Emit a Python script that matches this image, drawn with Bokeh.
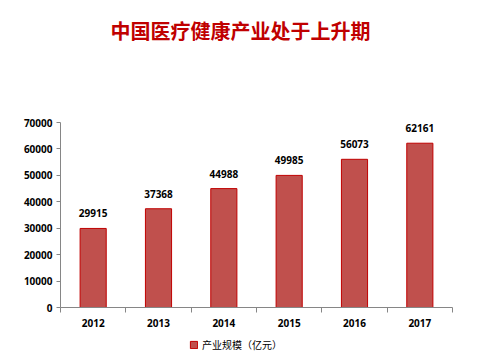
from bokeh.plotting import figure
from bokeh.layouts import column
from bokeh.models import ColumnDataSource, FixedTicker, Legend, LegendItem, Range1d
from bokeh.core.properties import value
from bokeh.embed import file_html
from bokeh.resources import INLINE

years = ["2012", "2013", "2014", "2015", "2016", "2017"]
scale = [29915, 37368, 44988, 49985, 56073, 62161]
y_ticks = [0, 10000, 20000, 30000, 40000, 50000, 60000, 70000]
title_text = "中国医疗健康产业处于上升期"
series_name = "产业规模（亿元）"

BAR_FILL = "#C0504D"
BAR_LINE = "#C00000"


def bare(fig):
    fig.outline_line_color = None
    fig.xaxis.visible = False
    fig.yaxis.visible = False
    fig.xgrid.visible = False
    fig.ygrid.visible = False
    return fig


xs = [i + 0.5 for i in range(len(years))]
src = ColumnDataSource(dict(x=xs, y=scale, lbl=[str(v) for v in scale]))

# ---- title strip (column aligns its frame with the main chart: 60px left, 28px right) ----
t = bare(figure(width=480, height=95, output_backend="svg", toolbar_location=None,
                x_range=Range1d(0, 392), y_range=Range1d(0, 95),
                min_border=0))
t.text(x=[180], y=[65], text=[title_text], text_align="center", text_baseline="middle",
       text_font=value("Noto Sans CJK SC"), text_font_size="20px", text_font_style="bold",
       text_color=BAR_LINE)

# ---- main chart ----
p = figure(width=480, height=240, output_backend="svg", toolbar_location=None,
           x_range=Range1d(0, len(years)), y_range=Range1d(0, 70000),
           min_border_left=60, min_border_right=28, min_border_top=27, min_border_bottom=28)
p.outline_line_color = None
p.xgrid.visible = False
p.ygrid.visible = False

p.vbar(x="x", top="y", width=0.4, source=src, fill_color=BAR_FILL, line_color=BAR_LINE, line_width=1)
p.text(x="x", y="y", text="lbl", source=src, text_align="center", text_baseline="bottom",
       y_offset=-11, text_font=value("Noto Sans"), text_font_size="10px", text_font_style="bold",
       text_color="black")

ax = p.xaxis[0]
ax.ticker = FixedTicker(ticks=xs, minor_ticks=list(range(len(years) + 1)))
ax.major_label_overrides = {x: y for x, y in zip(xs, years)}
ax.major_tick_line_color = None
ax.minor_tick_in = 0
ax.minor_tick_out = 5
ax.minor_tick_line_color = "#868686"
ax.axis_line_color = "#868686"
ax.major_label_text_font = "Noto Sans"
ax.major_label_text_font_size = "10px"
ax.major_label_text_font_style = "bold"
ax.major_label_text_color = "black"
ax.major_label_standoff = 5

ay = p.yaxis[0]
ay.ticker = FixedTicker(ticks=y_ticks, minor_ticks=[])
ay.major_tick_in = 0
ay.major_tick_out = 4
ay.major_tick_line_color = "#868686"
ay.axis_line_color = "#868686"
ay.major_label_text_font = "Noto Sans"
ay.major_label_text_font_size = "10px"
ay.major_label_text_font_style = "bold"
ay.major_label_text_color = "black"
ay.major_label_standoff = 4
ay.formatter.use_scientific = False

# ---- legend strip (its renderer is hidden; only the legend entry shows) ----
lg = bare(figure(width=480, height=22, output_backend="svg", toolbar_location=None,
                 x_range=Range1d(0, len(years)), y_range=Range1d(0, 70000), min_border=0))
lr = lg.vbar(x="x", top="y", width=0.4, source=src, fill_color=BAR_FILL, line_color=BAR_LINE)
lr.visible = False
legend = Legend(items=[LegendItem(label=series_name, renderers=[lr])], location=(129, 5),
                orientation="horizontal", background_fill_alpha=0, border_line_color=None,
                label_text_font="Noto Sans CJK SC", label_text_font_size="10px",
                label_text_color="black", inactive_fill_alpha=0,
                glyph_width=9, glyph_height=9, padding=0, margin=0, label_standoff=4)
lg.add_layout(legend)

layout = column(t, p, lg, spacing=0)
open("out.html", "w").write(file_html(layout, INLINE))
